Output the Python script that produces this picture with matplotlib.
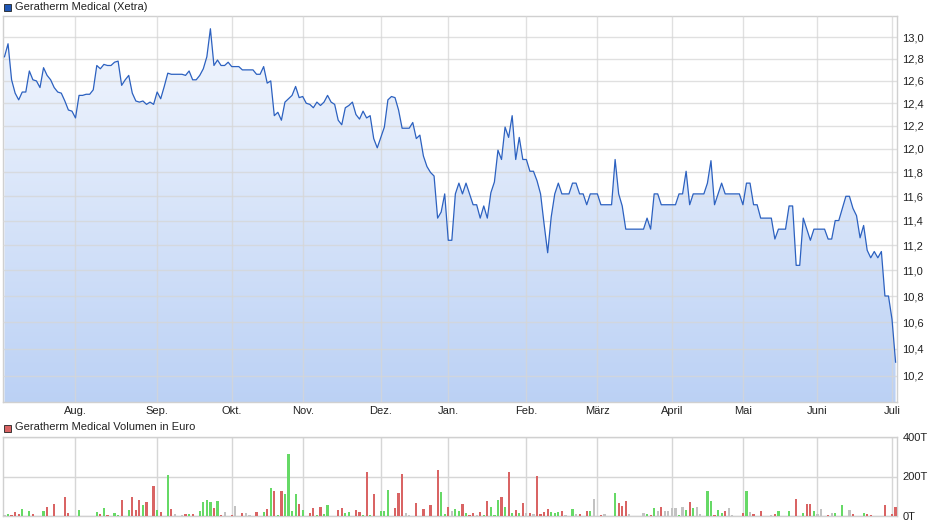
import numpy as np
import matplotlib
matplotlib.use("Agg")
import matplotlib.pyplot as plt
from matplotlib.patches import Rectangle
from matplotlib.ticker import FixedLocator, FuncFormatter, NullLocator, NullFormatter

plt.rcParams["font.family"] = ["Liberation Sans", "DejaVu Sans"]
plt.rcParams["font.size"] = 8

# ------------------------------
# Data (one value per Xetra trading day)
# ------------------------------
prices = [
    12.82, 12.94, 12.61, 12.49, 12.43, 12.50, 12.50, 12.69, 12.61, 12.60,
    12.54, 12.72, 12.65, 12.61, 12.54, 12.50, 12.49, 12.42, 12.34, 12.33,
    12.27, 12.47, 12.47, 12.48, 12.48, 12.52, 12.74, 12.71, 12.75, 12.74,
    12.74, 12.77, 12.78, 12.56, 12.61, 12.65, 12.49, 12.42, 12.41, 12.42,
    12.39, 12.41, 12.39, 12.50, 12.44, 12.55, 12.67, 12.66, 12.66, 12.66,
    12.66, 12.65, 12.69, 12.61, 12.61, 12.65, 12.71, 12.82, 13.08, 12.74,
    12.79, 12.74, 12.74, 12.77, 12.73, 12.73, 12.73, 12.70, 12.70, 12.70,
    12.70, 12.66, 12.66, 12.73, 12.58, 12.60, 12.29, 12.32, 12.25, 12.41,
    12.44, 12.47, 12.55, 12.45, 12.46, 12.40, 12.39, 12.36, 12.41, 12.38,
    12.41, 12.47, 12.41, 12.39, 12.25, 12.21, 12.36, 12.38, 12.41, 12.30,
    12.26, 12.33, 12.27, 12.29, 12.09, 12.01, 12.10, 12.19, 12.43, 12.46,
    12.45, 12.34, 12.18, 12.18, 12.18, 12.23, 12.09, 12.12, 11.94, 11.85,
    11.80, 11.77, 11.42, 11.47, 11.62, 11.24, 11.24, 11.62, 11.71, 11.62,
    11.71, 11.62, 11.53, 11.53, 11.42, 11.52, 11.42, 11.63, 11.72, 11.99,
    11.91, 12.19, 12.10, 12.29, 11.91, 12.10, 11.91, 11.91, 11.81, 11.81,
    11.73, 11.62, 11.37, 11.14, 11.43, 11.62, 11.71, 11.62, 11.62, 11.62,
    11.71, 11.71, 11.62, 11.62, 11.53, 11.62, 11.62, 11.62, 11.53, 11.53,
    11.53, 11.53, 11.91, 11.62, 11.52, 11.33, 11.33, 11.33, 11.33, 11.33,
    11.33, 11.42, 11.33, 11.62, 11.62, 11.53, 11.53, 11.53, 11.53, 11.53,
    11.62, 11.62, 11.81, 11.53, 11.62, 11.62, 11.62, 11.62, 11.71, 11.90,
    11.53, 11.62, 11.71, 11.62, 11.62, 11.62, 11.62, 11.62, 11.53, 11.71,
    11.71, 11.53, 11.53, 11.42, 11.42, 11.42, 11.42, 11.25, 11.33, 11.33,
    11.33, 11.52, 11.52, 11.04, 11.04, 11.42, 11.33, 11.24, 11.33, 11.33,
    11.33, 11.33, 11.25, 11.25, 11.40, 11.40, 11.50, 11.60, 11.60, 11.50,
    11.44, 11.26, 11.36, 11.16, 11.10, 11.15, 11.10, 11.15, 10.80, 10.80,
    10.62, 10.30,
]

# volume in thousand euro
volumes = [
    3, 12, 7, 22, 12, 35, 2, 25, 12, 2,
    0, 27, 47, 2, 62, 2, 2, 97, 17, 0,
    0, 32, 2, 0, 0, 0, 22, 12, 42, 7,
    0, 17, 7, 82, 2, 32, 97, 32, 82, 57,
    72, 2, 152, 32, 22, 0, 207, 37, 12, 2,
    7, 12, 12, 12, 0, 27, 72, 82, 72, 40,
    77, 7, 22, 2, 7, 52, 0, 17, 17, 7,
    0, 22, 2, 22, 37, 142, 127, 7, 127, 112,
    312, 27, 112, 62, 32, 2, 17, 42, 7, 47,
    12, 57, 2, 2, 32, 42, 17, 22, 2, 32,
    22, 7, 222, 7, 112, 0, 27, 27, 132, 0,
    42, 117, 212, 17, 7, 2, 67, 2, 37, 2,
    57, 2, 232, 122, 12, 47, 27, 37, 27, 62,
    17, 7, 17, 7, 22, 7, 77, 47, 7, 82,
    97, 47, 222, 17, 32, 17, 67, 17, 17, 12,
    202, 12, 22, 37, 22, 17, 22, 27, 7, 0,
    37, 12, 12, 0, 27, 27, 87, 0, 7, 12,
    2, 2, 117, 67, 52, 77, 12, 0, 0, 0,
    17, 12, 7, 42, 27, 47, 27, 27, 42, 42,
    7, 47, 32, 72, 42, 47, 12, 2, 127, 77,
    7, 32, 17, 27, 42, 7, 2, 2, 17, 127,
    22, 12, 0, 27, 0, 0, 7, 12, 27, 0,
    2, 27, 2, 87, 2, 17, 62, 62, 27, 12,
    37, 0, 7, 17, 17, 0, 57, 0, 32, 12,
    2, 2, 17, 12, 7, 2, 2, 2, 57, 2,
    12, 47,
]

# trading-day index of the first day of each month
month_starts = [20, 43, 64, 84, 106, 125, 147, 167, 188, 208, 229, 250]
month_labels = ["Aug.", "Sep.", "Okt.", "Nov.", "Dez.", "Jan.", "Feb.",
                "März", "April", "Mai", "Juni", "Juli"]
price_ticks = [10.2, 10.4, 10.6, 10.8, 11.0, 11.2, 11.4, 11.6, 11.8,
               12.0, 12.2, 12.4, 12.6, 12.8, 13.0]
volume_ticks = [0, 200, 400]

# ------------------------------
# Styling
# ------------------------------
LINE_BLUE = "#2c61c0"
GRID = "#d6d6d6"
FRAME = "#d0d0d0"
TXT = "#222222"
UP, DOWN, FLAT = "#66d966", "#d96464", "#c2c2c2"

prices = np.array(prices)
volumes = np.array(volumes, dtype=float)
days = np.arange(len(prices))
chg = np.diff(prices, prepend=prices[0])
bar_colors = np.where(chg > 0.005, UP, np.where(chg < -0.005, DOWN, FLAT))

fig = plt.figure(figsize=(9.4, 5.26), dpi=100)
W, H = 940.0, 526.0
ax = fig.add_axes([3 / W, 1 - 402 / H, 894 / W, 386 / H])
axv = fig.add_axes([3 / W, 1 - 516 / H, 894 / W, 79 / H])

xlim = (-0.42, len(prices) - 0.6)

# ------------------------------
# Price chart
# ------------------------------
ax.set_yscale("log")
ax.set_ylim(10.01, 13.2)
ax.set_xlim(*xlim)

fill = ax.fill_between(days, prices, 1.0, color="none", lw=0)
grad = np.linspace(0, 1, 256)[:, None]
top_c = np.array([0.955, 0.970, 0.996])
bot_c = np.array([0.735, 0.820, 0.960])
img = top_c + (bot_c - top_c) * grad[..., None]
img = img.reshape(256, 1, 3)
im = ax.imshow(img, extent=[0, 1, 0, 1], transform=ax.transAxes,
               aspect="auto", origin="upper", zorder=1)
path = fill.get_paths()[0]
im.set_clip_path(path, transform=ax.transData)

ax.plot(days, prices, color=LINE_BLUE, lw=0.9, zorder=4)

ax.yaxis.set_major_locator(FixedLocator(price_ticks))
ax.yaxis.set_minor_locator(NullLocator())
ax.yaxis.set_minor_formatter(NullFormatter())
ax.yaxis.set_major_formatter(FuncFormatter(lambda v, p: f"{v:.1f}".replace(".", ",")))
ax.yaxis.tick_right()
ax.set_xticks(month_starts)
ax.set_xticklabels(month_labels)
ax.tick_params(axis="both", length=0, labelsize=8, colors=TXT)
ax.tick_params(axis="y", pad=4)
ax.tick_params(axis="x", pad=3)
ax.grid(True, color=GRID, lw=1.0, alpha=0.75, zorder=2)
ax.set_axisbelow(False)
for gl in ax.get_xgridlines() + ax.get_ygridlines():
    gl.set_zorder(2)
for s in ax.spines.values():
    s.set_color(FRAME)
    s.set_linewidth(1.0)

# ------------------------------
# Volume chart
# ------------------------------
axv.bar(days, volumes, width=0.62, color=bar_colors, lw=0, zorder=3,
        antialiased=False)
axv.set_xlim(*xlim)
axv.set_ylim(0, 400)
axv.set_yticks(volume_ticks)
axv.set_yticklabels([f"{v}T" for v in volume_ticks])
axv.yaxis.tick_right()
axv.set_xticks(month_starts)
axv.set_xticklabels([])
axv.tick_params(axis="both", length=0, labelsize=8, colors=TXT)
axv.tick_params(axis="y", pad=4)
axv.grid(True, color=GRID, lw=1.0, zorder=0)
axv.set_axisbelow(True)
for s in axv.spines.values():
    s.set_color(FRAME)
    s.set_linewidth(1.0)

# ------------------------------
# Legend boxes
# ------------------------------
fig.add_artist(Rectangle((4 / W, 1 - 11 / H), 7 / W, 7 / H, transform=fig.transFigure,
                         facecolor="#1f56b5", edgecolor="#222222", lw=0.6))
fig.text(15 / W, 1 - 6.5 / H, "Geratherm Medical (Xetra)", fontsize=8,
         color=TXT, va="center", ha="left")
fig.add_artist(Rectangle((4 / W, 1 - 432 / H), 7 / W, 7 / H, transform=fig.transFigure,
                         facecolor="#d96464", edgecolor="#222222", lw=0.6))
fig.text(15 / W, 1 - 427.5 / H, "Geratherm Medical Volumen in Euro", fontsize=8,
         color=TXT, va="center", ha="left")

fig.savefig("out.png", dpi=100)
